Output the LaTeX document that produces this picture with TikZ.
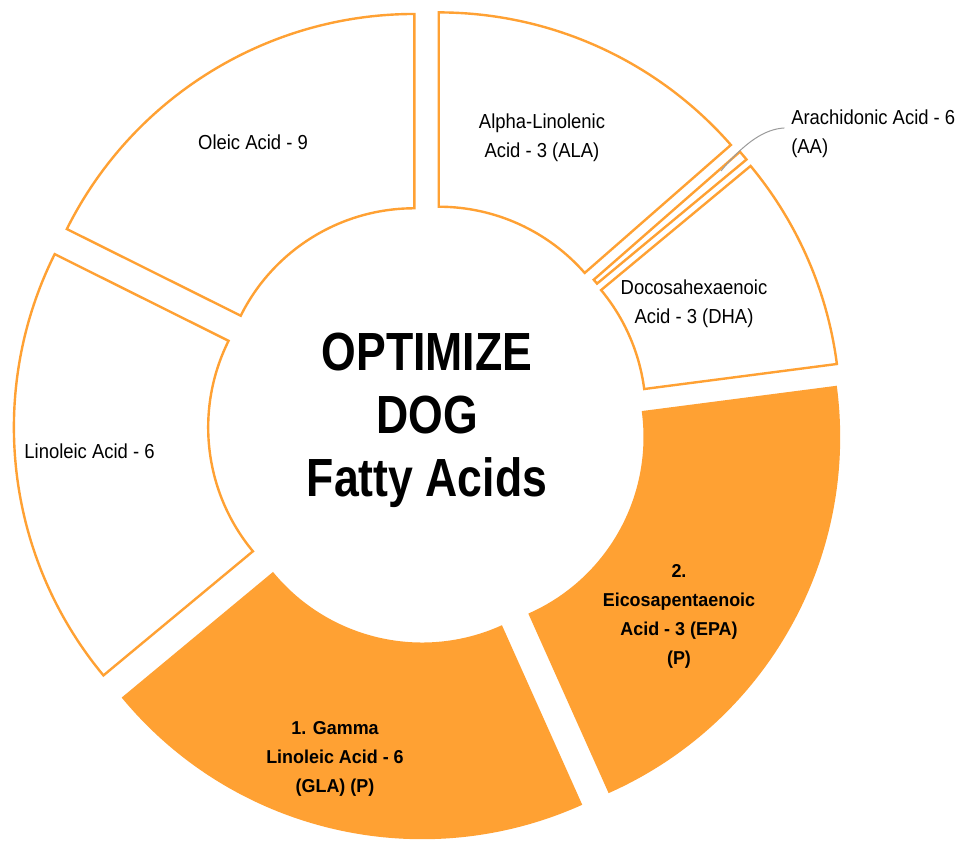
\documentclass[tikz,border=0pt]{standalone}
\usepackage{fontspec}
\setmainfont[FakeStretch=0.91]{Liberation Sans}
\newfontfamily\boldlabelfont[FakeStretch=0.96]{Liberation Sans}
\newfontfamily\titlefont[FakeStretch=0.83]{Liberation Sans}
\definecolor{acidorange}{RGB}{255,161,51}
\definecolor{leadergray}{RGB}{155,155,155}

% ring geometry (1 unit = 0.75pt)
\newcommand\Rout{388.3}
\newcommand\Rin{194}
\newcommand\gap{26}

% one exploded ring slice between two angles, pushed out along its bisector
\newcommand\donutslice[3]{%
  \pgfmathsetmacro\slmid{(#1+#2)/2}%
  \draw[#3, shift={(\slmid:\gap)}]
    (#1:\Rout) arc[start angle=#1, end angle=#2, radius=\Rout]
    -- (#2:\Rin) arc[start angle=#2, end angle=#1, radius=\Rin] -- cycle;
}

\tikzset{
  plainslice/.style={draw=acidorange, line width=1.8pt, fill=white, line join=miter},
  keyslice/.style={draw=acidorange, line width=1.8pt, fill=acidorange, line join=miter},
  label/.style={font=\fontsize{15.2}{21.75}\selectfont, align=center, inner sep=0pt},
  keylabel/.style={font=\boldlabelfont\bfseries\fontsize{14}{21.75}\selectfont, align=center, inner sep=0pt},
  titletext/.style={font=\titlefont\bfseries\fontsize{40.3}{47.25}\selectfont, align=center, inner sep=0pt},
  leader/.style={draw=leadergray, line width=0.75pt}
}

\begin{document}
\begin{tikzpicture}[x=0.75pt, y=0.75pt]
  \fill[white] (0,0) rectangle (964,841);
  \useasboundingbox (0,0) rectangle (964,841);

  \begin{scope}[shift={(428,416.6)}]
    \donutslice{41.2}{90}{plainslice}      % Alpha-Linolenic
    \donutslice{39.7}{41.2}{plainslice}    % Arachidonic
    \donutslice{7.4}{39.7}{plainslice}     % Docosahexaenoic
    \donutslice{-65.9}{7.4}{keyslice}      % Eicosapentaenoic
    \donutslice{-140.3}{-65.9}{keyslice}   % Gamma Linoleic
    \donutslice{153.5}{219.7}{plainslice}  % Linoleic
    \donutslice{90}{153.5}{plainslice}     % Oleic
  \end{scope}

  % slice labels
  \node[label] (oleic) at (253,699) {Oleic Acid - 9};
  \node[label] (ala) at (542,703) {Alpha-Linolenic\\Acid - 3 (ALA)};
  \node[label, align=left, anchor=west] (aa) at (791,707.5) {Arachidonic Acid - 6\\(AA)};
  \node[label] (dha) at (694,537) {Docosahexaenoic\\Acid - 3 (DHA)};
  \node[label] (linoleic) at (89.5,390) {Linoleic Acid - 6};
  \node[keylabel] (epa) at (679,225) {2.\\Eicosapentaenoic\\Acid - 3 (EPA)\\(P)};
  \node[keylabel] (gla) at (335,82) {1. Gamma\\Linoleic Acid - 6\\(GLA) (P)};

  % centre title
  \node[titletext] (title) at (427,421) {OPTIMIZE\\DOG\\Fatty Acids};

  % leader from the thin Arachidonic slice to its label
  \coordinate (aatip) at (721,670);
  \coordinate (aaend) at ([xshift=-5]aa.west |- 0,713);
  \draw[leader] (aatip) .. controls (745,699) and (765,712) .. (aaend);
\end{tikzpicture}
\end{document}
